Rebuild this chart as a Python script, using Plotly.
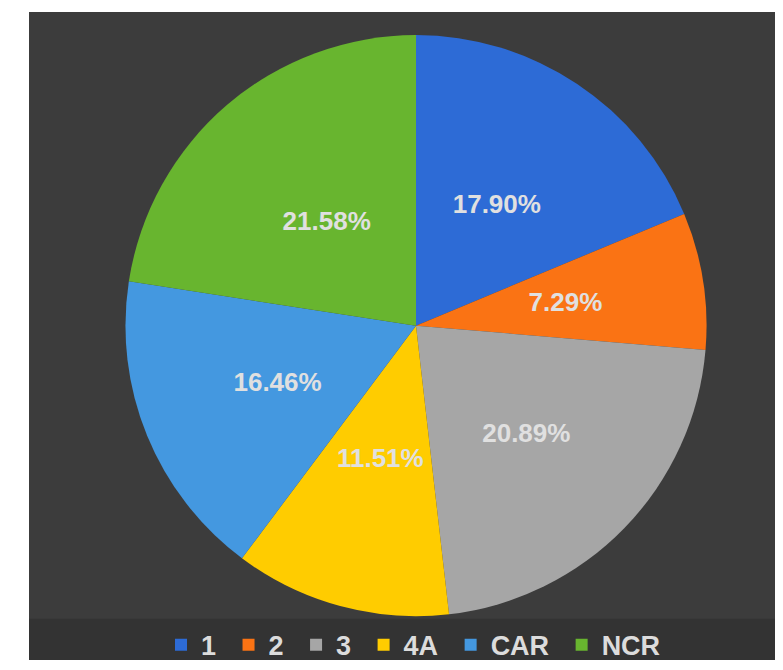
import plotly.graph_objects as go

categories = ["1", "2", "3", "4A", "CAR", "NCR"]
values = [17.90, 7.29, 20.89, 11.51, 16.46, 21.58]
colors = ["#2d6bd6", "#fa7314", "#a6a6a6", "#ffcc00", "#4498e0", "#68b52f"]

# page has an 8px body margin, so the figure is 8px smaller and coordinates shifted
W, H = 775, 662
cx, cy, r = 408, 322.5, 295
# label rings: which slices take their label from which invisible ring (radius)
label_rings = [(230, ["1", "CAR", "NCR"]), (190, ["2", "4A"]), (255, ["3"])]

FONT = "Liberation Sans, Arial, sans-serif"

def dom(rad):
    return dict(x=[(cx - rad) / W, (cx + rad) / W], y=[1 - (cy + rad) / H, 1 - (cy - rad) / H])

legend_names = [c + "\u00a0" for c in categories]

fig = go.Figure()
fig.add_trace(go.Pie(
    labels=legend_names,
    values=values,
    textinfo="none",
    sort=False,
    direction="clockwise",
    rotation=0,
    marker=dict(colors=colors, line=dict(width=0)),
    domain=dom(r),
    hoverinfo="label+percent",
))
for rad, cats in label_rings:
    fig.add_trace(go.Pie(
        labels=legend_names,
        values=values,
        text=[f"{v:.2f}%" if c in cats else "" for c, v in zip(categories, values)],
        texttemplate="%{text}",
        textposition="inside",
        insidetextorientation="horizontal",
        sort=False,
        direction="clockwise",
        rotation=0,
        marker=dict(colors=["rgba(0,0,0,0)"] * len(values), line=dict(width=0)),
        textfont=dict(family=FONT, size=26, color="#e0e0e0", weight="bold"),
        domain=dom(rad),
        showlegend=False,
        hoverinfo="skip",
    ))

fig.update_layout(
    width=W, height=H,
    margin=dict(l=0, r=0, t=0, b=0),
    paper_bgcolor="white",
    plot_bgcolor="white",
    showlegend=True,
    uniformtext=dict(minsize=26, mode="show"),
    legend=dict(
        orientation="h",
        x=(417 - 8) / W, xanchor="center",
        y=(H - 647) / H, yanchor="middle",
        font=dict(family=FONT, size=27, color="#dcdcdc", weight="bold"),
        bgcolor="rgba(0,0,0,0)",
        traceorder="normal",
    ),
    shapes=[
        dict(type="rect", xref="paper", yref="paper", x0=21 / W, x1=1, y0=0, y1=1 - 4 / H,
             fillcolor="#3c3c3c", line=dict(width=0), layer="below"),
        dict(type="rect", xref="paper", yref="paper", x0=21 / W, x1=1, y0=0, y1=1 - 620 / H,
             fillcolor="#333333", line=dict(width=0), layer="below"),
    ],
)

fig.write_html("out.html")
